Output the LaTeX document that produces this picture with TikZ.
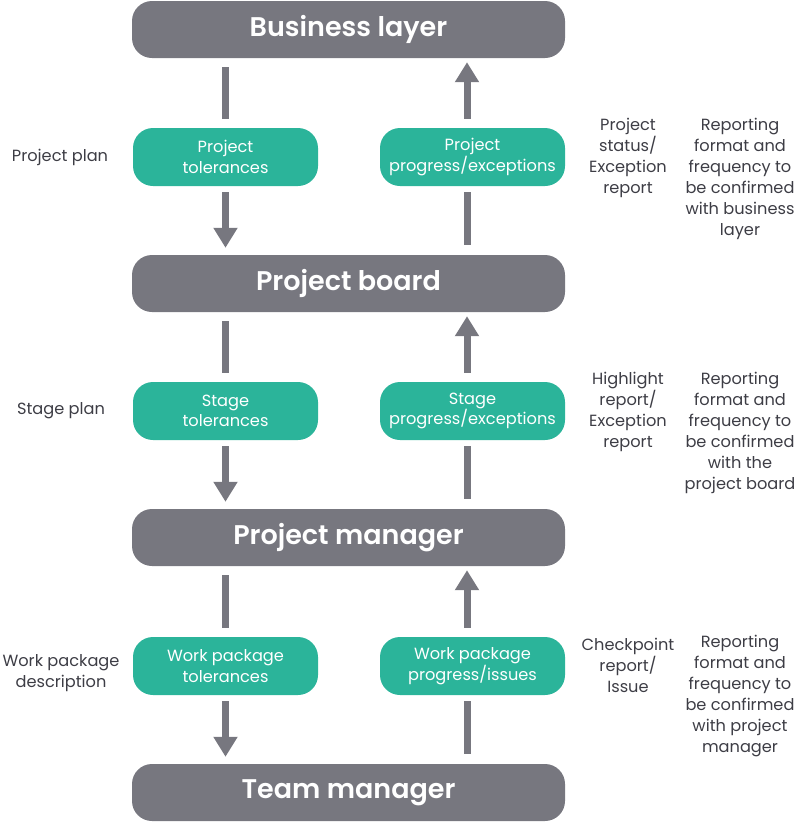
\documentclass[tikz,border=0pt]{standalone}
\usepackage{fontspec}
\setmainfont{Poppins}[BoldFont={Poppins SemiBold}]
\usetikzlibrary{arrows.meta,calc}
\definecolor{boxgray}{HTML}{77777F}
\definecolor{boxgreen}{HTML}{2BB49A}
\definecolor{txt}{HTML}{3D3D45}
\begin{document}
\begin{tikzpicture}[x=1pt,y=-1pt,
 layer/.style={fill=boxgray, rounded corners=20pt, minimum width=433pt, minimum height=57pt, text=white, font=\fontsize{27}{30}\selectfont\bfseries, inner sep=0pt},
 flow/.style={fill=boxgreen, rounded corners=20pt, minimum width=185pt, minimum height=58pt, text=white, font=\fontsize{16.2}{20.5}\selectfont, align=center, inner sep=0pt},
 note/.style={text=txt, font=\fontsize{16.2}{21}\selectfont, align=center, inner sep=0pt},
 conn/.style={draw=boxgray, line width=7pt},
 tip/.style={conn, -{Triangle[width=23pt,length=20pt]}}]
\useasboundingbox (0,0) rectangle (798,823);

% layers
\node[layer] (bl) at (348.5,29.5) {Business layer};
\node[layer] (pb) at (348.5,283.5) {Project board};
\node[layer] (pm) at (348.5,537.5) {Project manager};
\node[layer] (tm) at (348.5,792.5) {Team manager};

% flows
\node[flow] (pt) at (225.5,157) {Project\\tolerances};
\node[flow] (pp) at (472.5,157) {Project\\progress/exceptions};
\node[flow] (st) at (225.5,411) {Stage\\tolerances};
\node[flow] (sp) at (472.5,411) {Stage\\progress/exceptions};
\node[flow] (wt) at (225.5,666) {Work package\\tolerances};
\node[flow] (wp) at (472.5,666) {Work package\\progress/issues};

% connectors, left (downward)
\foreach \up/\mid/\low in {bl/pt/pb, pb/st/pm, pm/wt/tm}{
  \draw[conn] ($(\up.south -| \mid.north)+(0,9)$) -- ($(\mid.north)+(0,-9)$);
  \draw[tip]  ($(\mid.south)+(0,6)$) -- ($(\low.north -| \mid.south)+(0,-7)$);
}
% connectors, right (upward)
\foreach \up/\mid/\low in {bl/pp/pb, pb/sp/pm, pm/wp/tm}{
  \draw[tip]  ($(\mid.north)+(-5.5,-9)$) -- ($(\up.south -| \mid.north)+(-5.5,4)$);
  \draw[conn] ($(\low.north -| \mid.south)+(-5.5,-10)$) -- ($(\mid.south)+(-5.5,6)$);
}

% left notes
\node[note] (n1) at (60,157) {Project plan};
\node[note] (n2) at (61,411) {Stage plan};
\node[note] (n3) at (61,673) {Work package\\description};

% right notes
\node[note] (r1) at (628,157.5) {Project\\status/\\Exception\\report};
\node[note] (r2) at (628,411.5) {Highlight\\report/\\Exception\\report};
\node[note] (r3) at (628,665) {Checkpoint\\report/\\Issue};
\node[note] (f1) at (740,178.5) {Reporting\\format and\\frequency to\\be confirmed\\with business\\layer};
\node[note] (f2) at (740,432.5) {Reporting\\format and\\frequency to\\be confirmed\\with the\\project board};
\node[note] (f3) at (740,696.5) {Reporting\\format and\\frequency to\\be confirmed\\with project\\manager};
\end{tikzpicture}
\end{document}
